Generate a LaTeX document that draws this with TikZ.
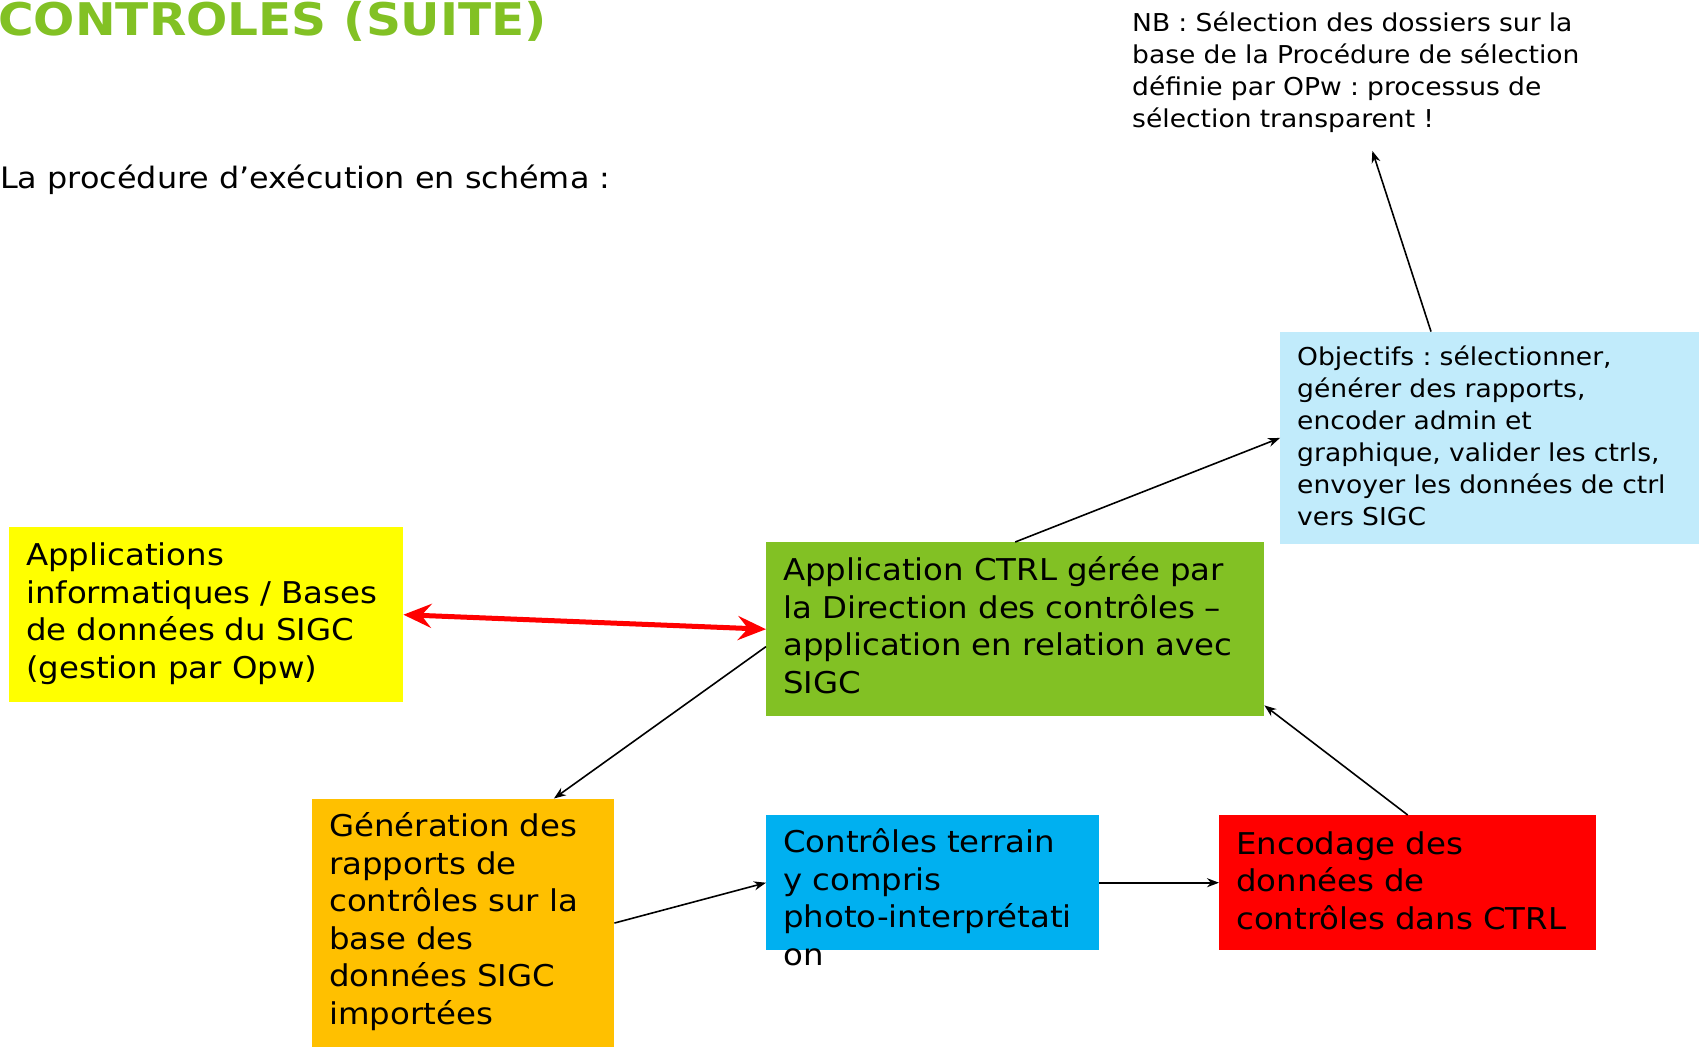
\documentclass[tikz,border=0pt]{standalone}
\usepackage{fontspec}
\setmainfont{DejaVu Sans}[FakeStretch=1.08]
\usepackage{xcolor}
\usepackage{tikz}
\usetikzlibrary{positioning, arrows.meta, calc}
\definecolor{cGreen}{HTML}{82C124}
\definecolor{cYellow}{HTML}{FFFF00}
\definecolor{cOrange}{HTML}{FFC000}
\definecolor{cBlue}{HTML}{00B0F0}
\definecolor{cSky}{HTML}{C1EBFB}
\definecolor{cRed}{HTML}{FF0000}
\newcommand{\bigtxt}{\fontsize{30}{37.5}\selectfont}
\newcommand{\smalltxt}{\fontsize{24.6}{32}\selectfont}
\frenchspacing

\begin{document}
\begin{tikzpicture}[x=1pt, y=-1pt,
  blk/.style={rectangle, anchor=north west, inner xsep=17pt, inner ysep=0pt, align=left,
    font=\bigtxt, text height=38.5pt},
  conn/.style={line width=1.6pt, -{Stealth[length=12pt, width=9pt]}},
  dbl/.style={draw=cRed, line width=5pt, {Stealth[length=28pt, width=24pt, inset=10pt]}-{Stealth[length=28pt, width=24pt, inset=10pt]}}]
  \useasboundingbox (0,0) rectangle (1699,1047);

  % titres
  \node[anchor=base west, inner sep=0pt, text=cGreen, font=\fontsize{45}{50}\selectfont\bfseries] (title) at (-2,35) {CONTROLES (SUITE)};
  \node[anchor=base west, inner sep=0pt, font=\fontsize{29.5}{36}\selectfont] (intro) at (0,188) {La procédure d’exécution en schéma :};
  \node[anchor=north west, inner sep=0pt, align=left, text width=460pt, font=\smalltxt,
    text height=31.5pt, text depth=119pt] (nb) at (1132,0) {NB : Sélection des dossiers sur la\\ base de la Procédure de sélection\\ définie par OPw : processus de\\ sélection transparent !};

  % blocs
  \node[blk, fill=cYellow, text width=360pt, text depth=136.5pt] (apps) at (9,527) {Applications\\ informatiques / Bases\\ de données du SIGC\\ (gestion par Opw)};
  \node[blk, fill=cGreen, text width=464pt, text depth=135.5pt] (ctrl) at (766,542) {Application CTRL gérée par\\ la Direction des contrôles –\\ application en relation avec\\ SIGC};
  \node[blk, fill=cSky, font=\smalltxt, text width=385pt, text height=34pt, text depth=178.5pt] (obj) at (1280,331.5) {Objectifs : sélectionner,\\ générer des rapports,\\ encoder admin et\\ graphique, valider les ctrls,\\ envoyer les données de ctrl\\ vers SIGC};
  \node[blk, fill=cOrange, text width=268pt, text height=38.2pt, text depth=210.5pt] (gen) at (312,798.5) {Génération des\\ rapports de\\ contrôles sur la\\ base des\\ données SIGC\\ importées};
  \node[blk, fill=cBlue, text width=299pt, text height=37.7pt, text depth=97.3pt] (terr) at (766,815) {Contrôles terrain\\ y compris\\ photo-interprétati\\ on};
  \node[blk, fill=cRed, text width=343pt, text height=39pt, text depth=96pt] (enc) at (1219,815) {Encodage des\\ données de\\ contrôles dans CTRL};

  % liaisons
  \draw[dbl] (apps.east) -- (ctrl.west);
  \draw[conn] (ctrl.184.4) -- ($(gen.north west)!0.8!(gen.north east)$);
  \draw[conn] (gen.east) -- (terr.west);
  \draw[conn] (terr.east) -- (enc.west);
  \draw[conn] (enc.north) -- (ctrl.-17.8);
  \draw[conn] (ctrl.north) -- (obj.west);
  \draw[conn] ($(obj.north west)!0.36!(obj.north east)$) -- ($(nb.south west)!0.522!(nb.south east)$);
\end{tikzpicture}
\end{document}
